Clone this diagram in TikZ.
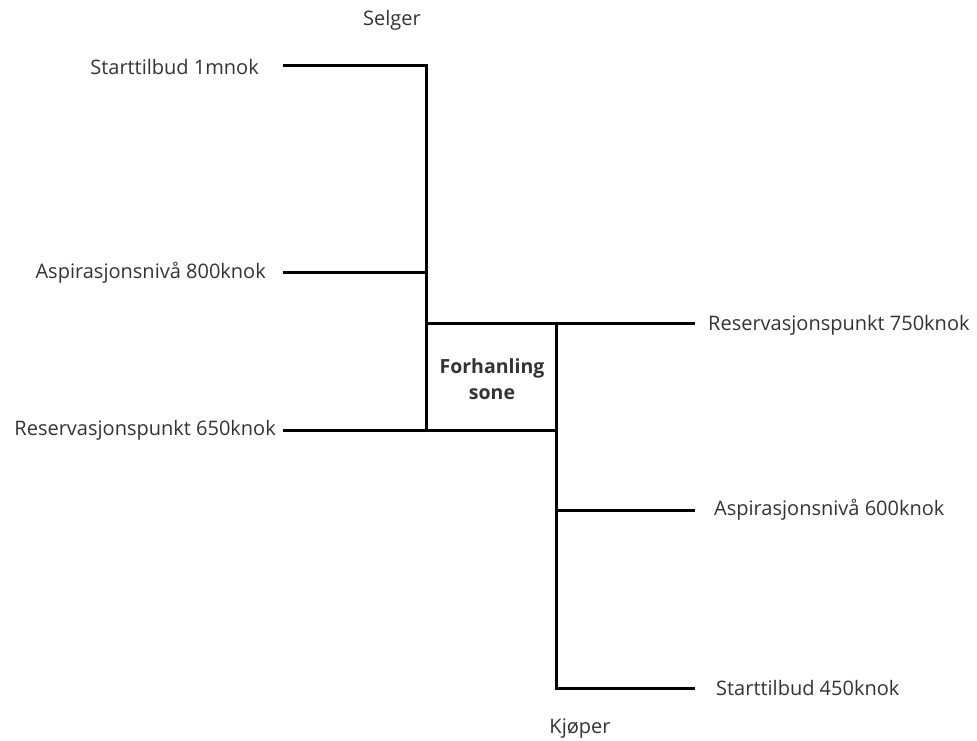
\documentclass[tikz,border=0pt]{standalone}
\usepackage{fontspec}
\setmainfont{Open Sans}
\definecolor{txt}{HTML}{333333}
\begin{document}
\begin{tikzpicture}[x=1pt,y=-1pt,
  bar/.style={line width=3pt,black},
  lbl/.style={inner sep=0pt,text=txt,font=\fontsize{20}{24}\selectfont},
  lbll/.style={lbl,anchor=east},
  lblr/.style={lbl,anchor=west}]
\useasboundingbox (0,0) rectangle (977,740);
% junction coordinates
\coordinate (sTop) at (426,65);
\coordinate (sA) at (426,272);
\coordinate (sR) at (426,323);
\coordinate (sB) at (426,430);
\coordinate (kT) at (556,323);
\coordinate (kR) at (556,430);
\coordinate (kA) at (556,510);
\coordinate (kB) at (556,688);
% line ends
\coordinate (eS) at (283,65);
\coordinate (eA) at (283,272);
\coordinate (eR) at (283,430);
\coordinate (fR) at (695,323);
\coordinate (fA) at (695,510);
\coordinate (fS) at (695,688);
% labels
\node[lbl] (selger) at (392,20) {Selger};
\node[lbl] (kjoper) at (580,729) {Kjøper};
\node[lbll] (ls) at (259,67) {Starttilbud 1mnok};
\node[lbll] (la) at (266,273) {Aspirasjonsnivå 800knok};
\node[lbll] (lr) at (276,430) {Reservasjonspunkt 650knok};
\node[lblr] (rr) at (708,325) {Reservasjonspunkt 750knok};
\node[lblr] (ra) at (714,510) {Aspirasjonsnivå 600knok};
\node[lblr] (rs) at (716,688) {Starttilbud 450knok};
\node[lbl,font=\bfseries\fontsize{19.5}{26}\selectfont,align=center] (zone) at (492,379) {Forhanling\\sone};
% lines
\draw[bar] (eS) -- (sTop) -- (sB);
\draw[bar] (eA) -- (sA);
\draw[bar] (eR) -- (kR);
\draw[bar] (sR) -- (fR);
\draw[bar] (kT) -- (kB) -- (fS);
\draw[bar] (kA) -- (fA);
\end{tikzpicture}
\end{document}
